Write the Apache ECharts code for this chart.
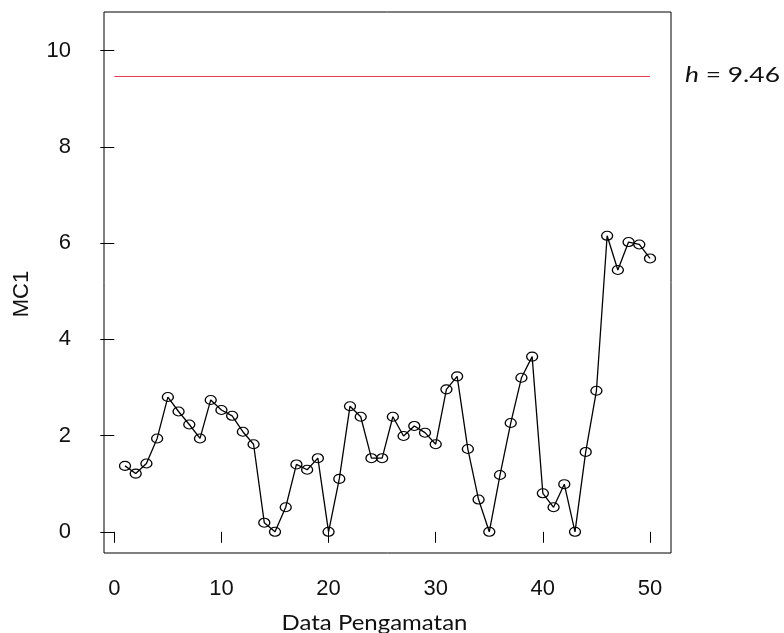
<!DOCTYPE html>
<html>
<head>
<meta charset="utf-8">
<script src="https://cdn.jsdelivr.net/npm/echarts@6/dist/echarts.min.js"></script>
<style>html,body{margin:0;padding:0;background:#fff}#c{width:784px;height:633px}</style>
</head>
<body>
<div id="c"></div>
<script>
var obs = [1,2,3,4,5,6,7,8,9,10,11,12,13,14,15,16,17,18,19,20,21,22,23,24,25,26,27,28,29,30,31,32,33,34,35,36,37,38,39,40,41,42,43,44,45,46,47,48,49,50];
var mc1 = [1.37,1.21,1.42,1.94,2.80,2.50,2.23,1.94,2.74,2.53,2.41,2.08,1.82,0.19,0.00,0.51,1.40,1.29,1.53,0.00,
           1.10,2.61,2.39,1.53,1.53,2.39,1.99,2.20,2.06,1.82,2.96,3.23,1.72,0.67,0.00,1.18,2.26,3.20,3.64,0.80,
           0.51,0.99,0.00,1.66,2.93,6.15,5.44,6.02,5.97,5.68];
var hValue = 9.46;
var hRange = [0, 50];
var xTicks = [0,10,20,30,40,50];
var yTicks = [0,2,4,6,8,10];
var xTitle = 'Data Pengamatan';
var yTitle = 'MC1';
var hLabelName = 'h';
var hLabelValue = ' = 9.46';

var chart = echarts.init(document.getElementById('c'), null, {renderer:'canvas'});
var seriesData = obs.map(function(x,i){return [x, mc1[i]];});
var hData = [[hRange[0], hValue],[hRange[1], hValue]];
var tickFont = {fontFamily:'"Liberation Sans"', fontSize:22, color:'#111'};

chart.setOption({
  animation:false,
  backgroundColor:'#fff',
  grid:{left:104, right:113, top:12, bottom:80, show:true, borderColor:'#000', borderWidth:1, backgroundColor:'transparent'},
  xAxis:{type:'value', min:-0.96, max:51.96,
    axisLine:{show:false}, splitLine:{show:false},
    axisTick:{show:true, inside:false, length:11, customValues:xTicks, lineStyle:{color:'#000', width:1}},
    axisLabel:Object.assign({show:true, margin:25, customValues:xTicks}, tickFont)
  },
  yAxis:{type:'value', min:-0.44, max:10.8,
    axisLine:{show:false}, splitLine:{show:false},
    axisTick:{show:true, inside:false, length:14, customValues:yTicks, lineStyle:{color:'#000', width:1}},
    axisLabel:Object.assign({show:true, margin:33, customValues:yTicks}, tickFont)
  },
  series:[
    {type:'line', data:hData, symbol:'none', lineStyle:{color:'#e83c5f', width:1.2}, z:2},
    {type:'line', data:seriesData, symbol:'circle', symbolSize:[11,9],
      lineStyle:{color:'#000', width:1.3},
      itemStyle:{color:'rgba(0,0,0,0)', borderColor:'#000', borderWidth:1.2}, z:3}
  ],
  graphic:[
    {type:'text', position:[374.5,623], scaleX:1.09, style:{text:xTitle, font:'22px Lato, sans-serif', fill:'#111', textAlign:'center', textVerticalAlign:'middle'}},
    {type:'text', rotation:Math.PI/2, position:[21.7,294], style:{text:yTitle, font:'22px "Liberation Sans", sans-serif', fill:'#111', textAlign:'center', textVerticalAlign:'middle'}},
    {type:'text', position:[685,75], scaleX:1.2, style:{rich:{i:{fontStyle:'italic', fontFamily:'Lato', fontSize:22, fill:'#111'}, n:{fontFamily:'Lato', fontSize:22, fill:'#111'}}, text:'{i|' + hLabelName + '}{n|' + hLabelValue + '}', textVerticalAlign:'middle'}}
  ]
});
</script>
</body>
</html>
